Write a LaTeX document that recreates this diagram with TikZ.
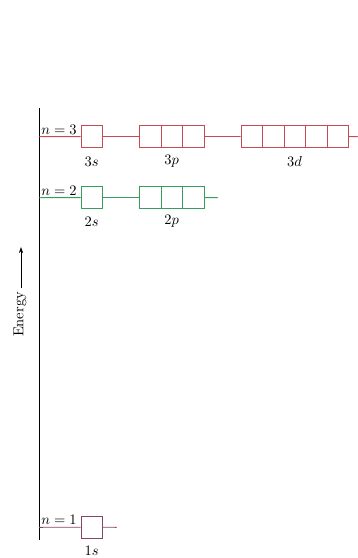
\documentclass[tikz,border=0pt]{standalone}
\usepackage{tikz}
\usetikzlibrary{arrows.meta,positioning}
\definecolor{ShellRed}{RGB}{200,72,84}
\definecolor{ShellGreen}{RGB}{56,156,92}
\definecolor{ShellPlum}{RGB}{132,70,104}
\tikzset{
  orb/.style={draw,minimum width=21.5pt,minimum height=22pt,inner sep=0pt,line width=0.7pt},
  level/.style={line width=0.9pt},
  sublabel/.style={scale=1.45,inner sep=0pt},
  nlabel/.style={scale=1.45,inner sep=0pt,anchor=base east}
}

\begin{document}
\begin{tikzpicture}[x=1pt,y=-1pt]
  \useasboundingbox (0,0) rectangle (358,558);
  % axis
  \coordinate (top) at (39,108);
  \coordinate (bot) at (39,540);
  \draw[line width=0.6pt] (top) -- (bot);
  \coordinate (etail) at (21,288);
  \coordinate (ehead) at (21,247);
  \draw[line width=0.5pt,-{Stealth[length=6pt,width=4pt]}] (etail) -- (ehead);
  \node[rotate=90,scale=1.45] (energy) at (20,314.5) {Energy};
  % n = 3
  \begin{scope}[ShellRed]
    \coordinate (a3) at (39,136.7);
    \coordinate (e3) at (358,136.7);
    \node[orb] (s3) at (91.7,136.5) {};
    \foreach \i/\x in {1/150.1,2/171.7,3/193.3}
      \node[orb] (p3-\i) at (\x,136.5) {};
    \foreach \i/\x in {1/251.7,2/273.2,3/294.6,4/316.1,5/337.6}
      \node[orb] (d3-\i) at (\x,136.5) {};
    \draw[level] (a3) -- (s3) (s3) -- (p3-1) (p3-3) -- (d3-1) (d3-5) -- (e3);
  \end{scope}
  \node[nlabel] (n3) at (77,134) {$n=3$};
  \node[sublabel] (l3s) at (91.7,161.5) {$3s$};
  \node[sublabel] (l3p) at (171.7,161.5) {$3p$};
  \node[sublabel] (l3d) at (294.6,161.5) {$3d$};
  % n = 2
  \begin{scope}[ShellGreen]
    \coordinate (a2) at (39,197.7);
    \coordinate (e2) at (218,197.7);
    \node[orb] (s2) at (91.7,197.5) {};
    \foreach \i/\x in {1/150.1,2/171.7,3/193.3}
      \node[orb] (p2-\i) at (\x,197.5) {};
    \draw[level] (a2) -- (s2) (s2) -- (p2-1) (p2-3) -- (e2);
  \end{scope}
  \node[nlabel] (n2) at (77,195) {$n=2$};
  \node[sublabel] (l2s) at (91.7,221.5) {$2s$};
  \node[sublabel] (l2p) at (171.7,221.5) {$2p$};
  % n = 1
  \begin{scope}[ShellPlum]
    \coordinate (a1) at (39,527.3);
    \coordinate (e1) at (116.7,527.3);
    \node[orb] (s1) at (91.7,527.2) {};
    \draw[level] (a1) -- (s1) (s1) -- (e1);
  \end{scope}
  \node[nlabel] (n1) at (77,524.5) {$n=1$};
  \node[sublabel] (l1s) at (91.7,551) {$1s$};
\end{tikzpicture}
\end{document}
